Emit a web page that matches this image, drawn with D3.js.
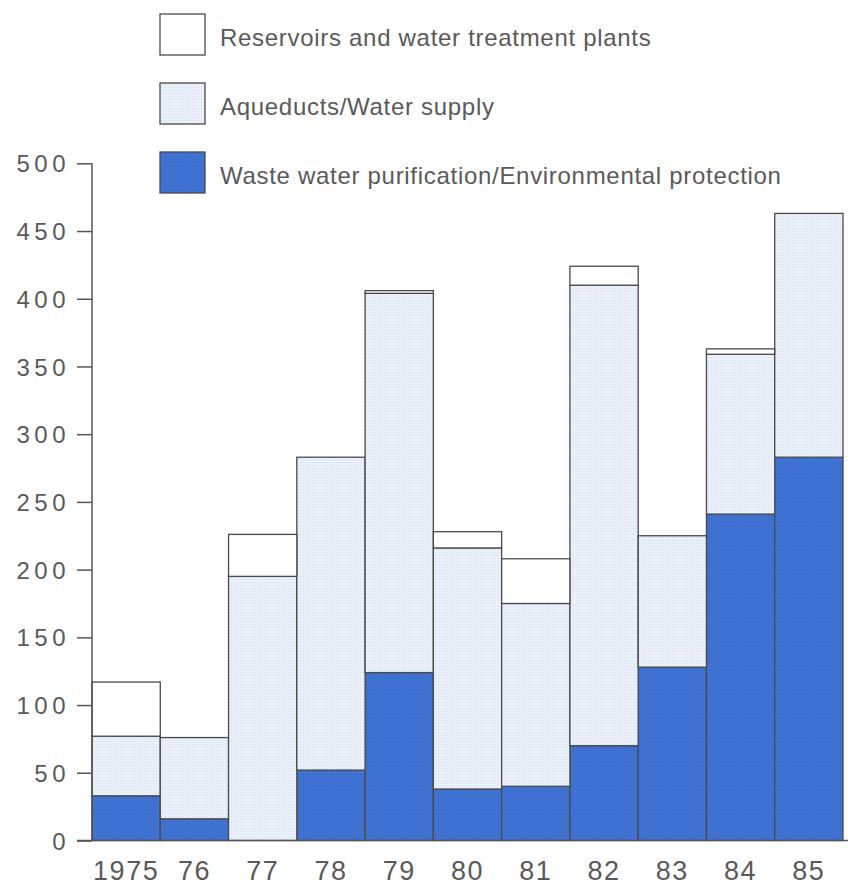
<!DOCTYPE html>
<html><head><meta charset="utf-8">
<script src="https://cdn.jsdelivr.net/npm/d3@7/dist/d3.min.js"></script>
<style>body{margin:0;background:#fff}svg{display:block}</style>
</head><body>
<svg id="chart" width="854" height="890"></svg>
<script>
const years = ["1975","76","77","78","79","80","81","82","83","84","85"];
const seriesNames = ["Waste water purification/Environmental protection","Aqueducts/Water supply","Reservoirs and water treatment plants"];
const wasteWater = [33, 16, 0, 52, 124, 38, 40, 70, 128, 241, 283];
const aqueducts  = [44, 60, 195, 231, 280, 178, 135, 340, 97, 118, 180];
const reservoirs = [40, 0, 31, 0, 2, 12, 33, 14, 0, 4, 0];
const yTicks = [0,50,100,150,200,250,300,350,400,450,500];

const svg = d3.select("#chart");
const x = d3.scaleBand().domain(years).range([92, 843]).paddingInner(0).paddingOuter(0);
const y = d3.scaleLinear().domain([0, 500]).range([840.5, 163.3]);

const rows = years.map((yr,i)=>({year:yr, w:wasteWater[i], a:aqueducts[i], r:reservoirs[i]}));
const stack = d3.stack().keys(["w","a","r"])(rows);

const defs = svg.append("defs");
const pat = defs.append("pattern").attr("id","dots").attr("width",3).attr("height",3).attr("patternUnits","userSpaceOnUse");
pat.append("rect").attr("width",3).attr("height",3).attr("fill","#e9f0f9");
pat.append("rect").attr("width",1).attr("height",1).attr("fill","#d5dde9");
const pat2 = defs.append("pattern").attr("id","bdots").attr("width",3).attr("height",3).attr("patternUnits","userSpaceOnUse");
pat2.append("rect").attr("width",3).attr("height",3).attr("fill","#4072d3");
pat2.append("rect").attr("width",1).attr("height",1).attr("fill","#3a68c6");
const fills = ["url(#bdots)", "url(#dots)", "#ffffff"];

stack.forEach((layer, li) => {
  svg.append("g").selectAll("rect").data(layer.filter(d => d[1] - d[0] > 0)).join("rect")
    .attr("x", d => x(d.data.year))
    .attr("width", x.bandwidth())
    .attr("y", d => y(d[1]))
    .attr("height", d => y(d[0]) - y(d[1]))
    .attr("fill", fills[li])
    .attr("stroke", "#4a4a4a")
    .attr("stroke-width", 1.3);
});

const font = "Liberation Sans, Arial, sans-serif";
const yAxis = d3.axisLeft(y).tickValues(yTicks).tickSize(15).tickPadding(10);
const gy = svg.append("g").attr("transform","translate(92,0)").call(yAxis);
gy.select(".domain").remove();
gy.selectAll(".tick line").attr("stroke","#555").attr("stroke-width",1.5);
gy.selectAll(".tick text").attr("fill","#5a5a5a").attr("font-family",font)
  .attr("font-size",24).attr("letter-spacing","4.5px").attr("dx","3px").attr("dy","0.36em");
svg.append("line").attr("x1",92).attr("x2",92).attr("y1",y(500)).attr("y2",y(0)).attr("stroke","#555").attr("stroke-width",1.5);
svg.append("line").attr("x1",77).attr("x2",848).attr("y1",y(0)).attr("y2",y(0)).attr("stroke","#555").attr("stroke-width",1.5);

const xAxis = d3.axisBottom(x).tickSize(0).tickPadding(20);
const gx = svg.append("g").attr("transform",`translate(0,${y(0)})`).call(xAxis);
gx.select(".domain").remove();
gx.selectAll(".tick text").attr("fill","#5a5a5a").attr("font-family",font)
  .attr("font-size",27).attr("letter-spacing","1.5px");

const legendOrder = [2,1,0];
const lg = svg.append("g");
legendOrder.forEach((si, k) => {
  const yy = 14 + k*69;
  lg.append("rect").attr("x",160).attr("y",yy).attr("width",45).attr("height",41)
    .attr("fill", si===1 ? "url(#dots)" : (si===0 ? "url(#bdots)" : "#fff"))
    .attr("stroke","#4a4a4a").attr("stroke-width",1.3);
  lg.append("text").attr("x",220).attr("y",yy+32).text(seriesNames[si])
    .attr("fill","#5a5a5a").attr("font-family",font).attr("font-size",24).attr("letter-spacing","0.7px");
});
</script>
</body></html>
